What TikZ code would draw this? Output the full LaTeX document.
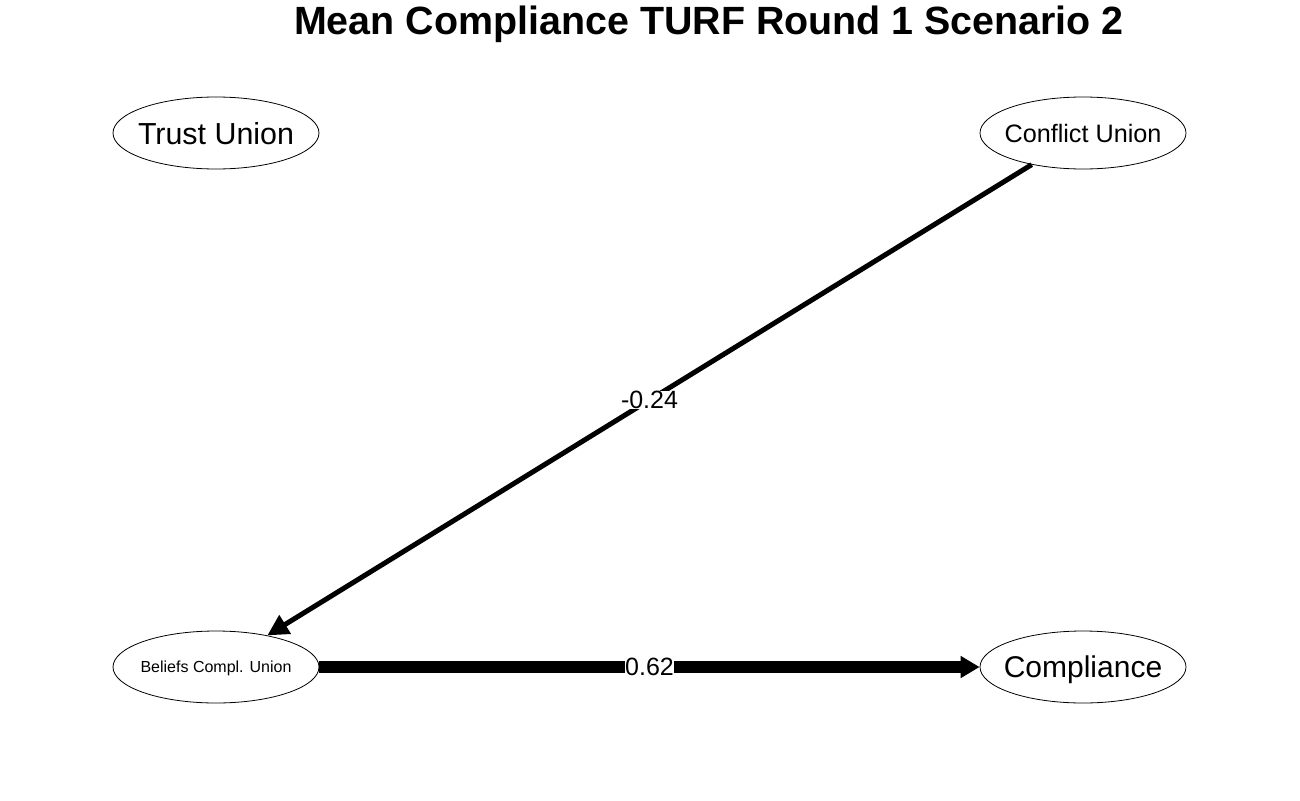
\documentclass[tikz,border=0pt]{standalone}
\usepackage{fontspec}
\setmainfont{Liberation Sans}
\usetikzlibrary{shapes.geometric,arrows.meta}
\begin{document}
\begin{tikzpicture}[x=1pt,y=-1pt,
  latent/.style={draw,ellipse,line width=0.8pt,minimum width=206pt,minimum height=72pt,inner xsep=-12pt,inner ysep=0pt,text depth=0pt},
  elabel/.style={fill=white,inner sep=0.5pt,font=\fontsize{25}{25}\selectfont},
  path1/.style={line width=5pt,-{Triangle[length=21pt,width=21pt]}},
  path2/.style={line width=12pt,-{Triangle[length=19pt,width=21pt]}}]
\useasboundingbox (0,0) rectangle (1300,800);
\node[font=\bfseries\fontsize{39.4}{39.4}\selectfont] (title) at (709,24) {Mean Compliance TURF Round 1 Scenario 2};
\node[latent,font=\fontsize{30.4}{30.4}\selectfont] (trust) at (216,133) {Trust Union};
\node[latent,font=\fontsize{25.2}{25.2}\selectfont] (conflict) at (1083,133) {Conflict Union};
\node[latent,font=\fontsize{16}{16}\selectfont] (beliefs) at (216,667) {Beliefs Compl. Union};
\node[latent,font=\fontsize{30}{30}\selectfont] (compliance) at (1083,667) {Compliance};
\draw[path1] (conflict) -- node[elabel] (l1) {-0.24} (beliefs);
\draw[path2] (beliefs) -- node[elabel] (l2) {0.62} (compliance);
\end{tikzpicture}
\end{document}
